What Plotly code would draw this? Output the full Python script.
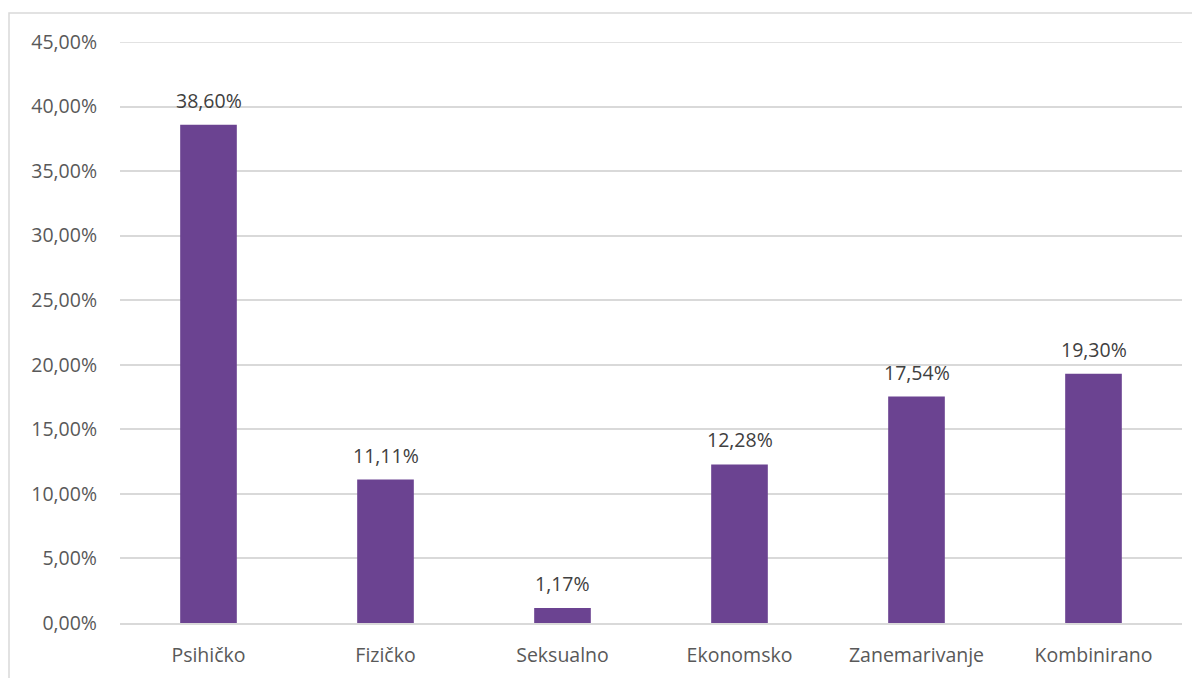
import plotly.graph_objects as go

categories = ["Psihičko", "Fizičko", "Seksualno", "Ekonomsko", "Zanemarivanje", "Kombinirano"]
values = [38.60, 11.11, 1.17, 12.28, 17.54, 19.30]
tick_vals = [0, 5, 10, 15, 20, 25, 30, 35, 40, 45]
tick_text = ["0,00%", "5,00%", "10,00%", "15,00%", "20,00%", "25,00%", "30,00%", "35,00%", "40,00%", "45,00%"]
labels = [f"{v:.2f}%".replace(".", ",") for v in values]

font_family = "Open Sans, Noto Sans, sans-serif"
FS = 19.5

fig = go.Figure(go.Bar(
    x=categories, y=values,
    marker=dict(color="#6B4391", line=dict(width=0)),
    width=0.32,
))

for c, v, t in zip(categories, values, labels):
    fig.add_annotation(x=c, y=v, text=t, showarrow=False, yanchor="bottom",
                       yshift=9, font=dict(family=font_family, size=FS, color="#404040"))

# page body adds an 8px offset; compensate
OFF = 8
W, H = 1200 - OFF, 678 - OFF
ml, mr, mt, mb = 120 - OFF, 18, 42 - OFF, 55
pw, ph = W - ml - mr, H - mt - mb

fig.update_layout(
    width=W, height=H,
    margin=dict(l=ml, r=mr, t=mt, b=mb),
    paper_bgcolor="white", plot_bgcolor="white",
    showlegend=False,
    xaxis=dict(tickfont=dict(family=font_family, size=FS, color="#595959"),
               showgrid=False, showline=True, linecolor="#D9D9D9", linewidth=1.5,
               ticks="", range=[-0.5, 5.5], ticklabelstandoff=14, automargin=False),
    yaxis=dict(range=[0, 45], tickvals=tick_vals, ticktext=tick_text,
               tickfont=dict(family=font_family, size=FS, color="#595959"),
               showgrid=True, gridcolor="#D9D9D9", gridwidth=1.5,
               zeroline=False, showline=False, ticks="", ticklabelstandoff=22,
               automargin=False),
    shapes=[dict(type="rect", xref="paper", yref="paper",
                 x0=(9 - OFF - ml) / pw, x1=(W + 20 - ml) / pw,
                 y0=-(mb + 20) / ph, y1=(H - mb - (13 - OFF)) / ph,
                 line=dict(color="#D9D9D9", width=1.5), fillcolor="rgba(0,0,0,0)", layer="below"),
            dict(type="line", xref="paper", yref="y", x0=0, x1=1, y0=tick_vals[-1], y1=tick_vals[-1],
                 line=dict(color="#D9D9D9", width=1.5), layer="below")],
)

fig.write_html("out.html")
